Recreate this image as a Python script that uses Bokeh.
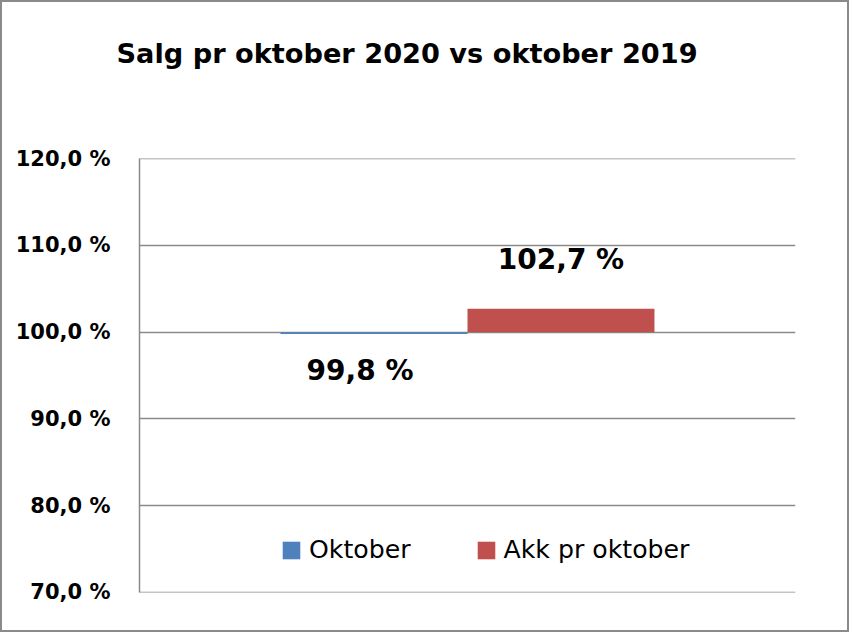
from bokeh.plotting import figure
from bokeh.models import Range1d, FactorRange, FixedTicker, ColumnDataSource, Legend, LegendItem, Title
from bokeh.transform import dodge
from bokeh.core.properties import value
from bokeh.embed import file_html
from bokeh.resources import INLINE

# ---- data ----
categories = ["Salg"]
series = ["Oktober", "Akk pr oktober"]
values = [99.8, 102.7]
baseline = 100.0
tick_values = [70, 80, 90, 100, 110, 120]
tick_labels = ["70,0 %", "80,0 %", "90,0 %", "100,0 %", "110,0 %", "120,0 %"]
title_text = "Salg pr oktober 2020 vs oktober 2019"

# ---- style ----
colors = ["#4F81BD", "#C0504D"]
label_x_offsets = [-14, 0]
label_y_offsets = [37, -49]
bar_width = 0.285
grid_color = "#8a8a8a"
FONT = "DejaVu Sans"


def fmt(v):
    return f"{v:.1f}".replace(".", ",") + " %"


p = figure(width=849, height=632,
           x_range=FactorRange(*categories), y_range=Range1d(69.97, 120.03),
           output_backend="svg", toolbar_location=None,
           min_border_left=137, min_border_right=56,
           min_border_top=156, min_border_bottom=42)
p.styles = {"border": "2px solid #8a8a8a"}
p.outline_line_color = None
p.background_fill_color = "white"
p.border_fill_color = "white"

# real title
p.title.text = title_text
p.title.text_font = FONT
p.title.text_font_style = "bold"
p.title.text_font_size = "27.2px"
p.title.text_color = "black"
p.title.align = "left"
p.title.offset = -23
p.title.standoff = 0

# white spacer title between the real title and the frame
spacer = Title(text=".", text_font_size="10px", text_color="white", standoff=80)
p.add_layout(spacer, "above")

p.xaxis.visible = False
p.xgrid.visible = False
p.ygrid.ticker = FixedTicker(ticks=tick_values)
p.ygrid.grid_line_color = grid_color
p.ygrid.grid_line_width = 1.5
p.yaxis.ticker = FixedTicker(ticks=tick_values)
p.yaxis.major_label_overrides = {t: l for t, l in zip(tick_values, tick_labels)}
p.yaxis.major_label_text_font = FONT
p.yaxis.major_label_text_font_style = "bold"
p.yaxis.major_label_text_font_size = "21px"
p.yaxis.major_label_text_color = "black"
p.yaxis.major_label_standoff = 29
p.yaxis.major_tick_in = 0
p.yaxis.major_tick_out = 0
p.yaxis.minor_tick_in = 0
p.yaxis.minor_tick_out = 0
p.yaxis.axis_line_color = grid_color
p.yaxis.axis_line_width = 1.5

items = []
n = len(series)
for i, (name, val, col) in enumerate(zip(series, values, colors)):
    off = (i - (n - 1) / 2) * bar_width
    src = ColumnDataSource(dict(cat=categories, top=[val], bottom=[baseline], label=[fmt(val)]))
    r = p.vbar(x=dodge("cat", off, range=p.x_range), top="top", bottom="bottom",
               width=bar_width, fill_color=col, line_color=None, source=src)
    p.text(x=dodge("cat", off, range=p.x_range), y="top", text="label", source=src,
           x_offset=label_x_offsets[i], y_offset=label_y_offsets[i],
           text_font=value(FONT), text_font_style="bold", text_font_size="28px",
           text_align="center", text_baseline="alphabetic", text_color="black")
    items.append(LegendItem(label=name, renderers=[r]))

legend = Legend(items=items, orientation="horizontal", location=(141, 28),
                padding=0, margin=0, spacing=64, label_standoff=7,
                glyph_width=22, glyph_height=22,
                label_text_font=FONT, label_text_font_size="25.2px",
                label_text_color="black",
                label_text_baseline="middle",
                background_fill_alpha=0, border_line_color=None)
p.add_layout(legend)

open("out.html", "w").write(file_html(p, INLINE))
